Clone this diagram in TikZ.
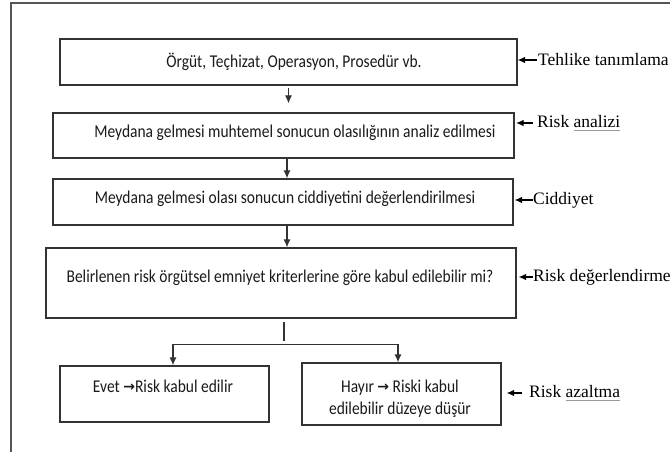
\documentclass[tikz,border=0pt]{standalone}
\usepackage{fontspec}
\setmainfont{Liberation Serif}
\newfontfamily\boxfont[FakeStretch=0.86]{Carlito}
\newfontfamily\arrfont{DejaVu Sans}
\usetikzlibrary{arrows.meta}
\definecolor{boxline}{HTML}{333333}
\definecolor{framecol}{HTML}{555555}
\definecolor{txtcol}{HTML}{1A1A1A}
\newcommand\myul[1]{\setbox0\hbox{#1}\rlap{\color{gray!80}\rule[-2.5pt]{\wd0}{0.6pt}}\box0}
\newcommand\txtarrow{{\arrfont\bfseries\fontsize{14}{14}\selectfont\raisebox{1.5pt}{→}}}
\begin{document}
\begin{tikzpicture}[x=1pt,y=-1pt,
  box/.style={draw=boxline, line width=1.3pt, inner sep=0pt},
  txt/.style={font=\boxfont\fontsize{18}{22}\selectfont, text=txtcol, inner sep=0pt, text height=1.5ex, text depth=0.25ex},
  txttwo/.style={font=\boxfont\fontsize{18}{22}\selectfont, text=txtcol, inner sep=0pt, align=center},
  lab/.style={font=\fontsize{17.5}{20}\selectfont, anchor=west, inner sep=0pt},
  arr/.style={-{Latex[length=8pt,width=7pt]}, line width=1.1pt, draw=boxline},
  labarr/.style={-{Latex[length=7.5pt,width=6.5pt]}, line width=1.1pt},
  plain/.style={line width=1.1pt, draw=boxline}
]
\fill[white] (0,0) rectangle (670,452);
\useasboundingbox (0,0) rectangle (670,452);
\draw[framecol, line width=1.4pt] (11,452) -- (11,3) -- (670,3);

% boxes
\node[box, minimum width=457pt, minimum height=46pt] (b1) at (288.5,62) {};
\node[box, minimum width=461pt, minimum height=45pt] (b2) at (283.5,135.5) {};
\node[box, minimum width=460pt, minimum height=46pt] (b3) at (283,202) {};
\node[box, minimum width=470pt, minimum height=70pt] (b4) at (281,283) {};
\node[box, minimum width=209pt, minimum height=56pt] (b5) at (164.5,394) {};
\node[box, minimum width=199pt, minimum height=62pt] (b6) at (401.5,394) {};

% box texts
\node[txt] (t1) at (294,65) {Örgüt, Teçhizat, Operasyon, Prosedür vb.};
\node[txt] (t2) at (295,135) {Meydana gelmesi muhtemel sonucun olasılığının analiz edilmesi};
\node[txt] (t3) at (285,201) {Meydana gelmesi olası sonucun ciddiyetini değerlendirilmesi};
\node[txt] (t4) at (280,280) {Belirlenen risk örgütsel emniyet kriterlerine göre kabul edilebilir mi?};
\node[txt] (t5) at (163,390) {Evet \txtarrow Risk kabul edilir};
\node[txttwo] (t6) at (400,399) {Hayır \txtarrow\ Riski kabul\\edilebilir düzeye düşür};

% main flow
\draw[arr, shorten <=2pt, shorten >=9pt] (b1.south) -- (b1.south |- b2.north);
\draw[arr] ([xshift=3.5pt]b2.south) -- ([xshift=3.5pt]b2.south |- b3.north);
\draw[arr] ([xshift=4pt]b3.south) -- ([xshift=4pt]b3.south |- b4.north);
\coordinate (s1) at (284,322);
\coordinate (s2) at (284,341);
\draw[plain] (s1) -- (s2);
\coordinate (j5) at (173,344.5);
\coordinate (j6) at (398,344.5);
\draw[plain, {Latex[length=8pt,width=7pt]}-{Latex[length=8pt,width=7pt]}] (j5 |- b5.north) -- (j5) -- (j6) -- (j6 |- b6.north);

% side labels
\node[lab] (l1) at (538,60) {Tehlike tanımlama};
\node[lab] (l2) at (537,123) {Risk \myul{analizi}};
\node[lab] (l3) at (533,200) {Ciddiyet};
\node[lab] (l4) at (533,277) {Risk değerlendirme};
\node[lab] (l5) at (529,393) {Risk \myul{azaltma}};
\draw[labarr] ([xshift=-1pt]l1.west) -- (l1.west -| b1.east);
\draw[labarr] ([xshift=-4pt]l2.west) -- ([xshift=1.5pt]l2.west -| b2.east);
\draw[labarr] ([xshift=-0.5pt]l3.west) -- ([xshift=1pt]l3.west -| b3.east);
\draw[labarr] ([xshift=-0.5pt]l4.west) -- ([xshift=2pt]l4.west -| b4.east);
\draw[labarr] ([xshift=-7pt]l5.west) -- ([xshift=5pt]l5.west -| b6.east);
\end{tikzpicture}
\end{document}
